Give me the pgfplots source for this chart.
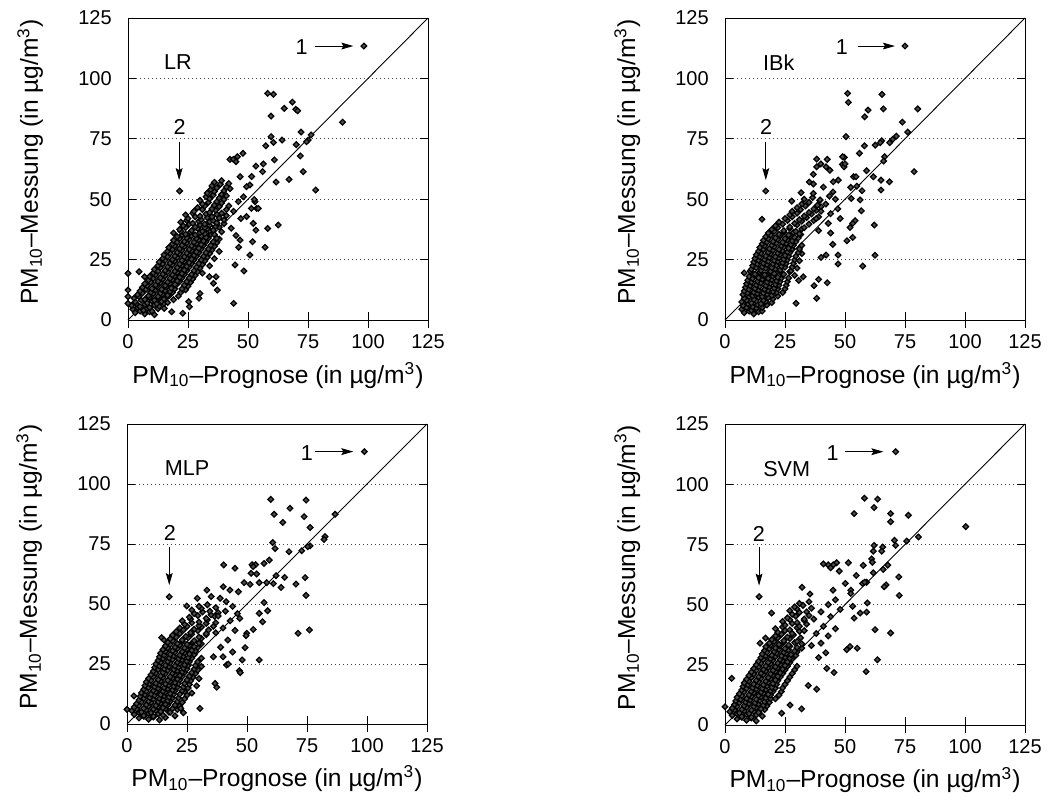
\documentclass[border=0pt]{standalone}
\usepackage{pgfplots}
\pgfplotsset{compat=1.18}
\usepackage{fontspec}
\setmainfont{Liberation Sans}
\usetikzlibrary{arrows.meta}
\tikzset{
  ann/.style={font=\fontsize{10.8}{12}\selectfont},
  arr/.style={-{Stealth[length=6pt,width=3.4pt,inset=1pt]}, line width=0.45pt},
}
\pgfplotsset{
  pmaxis/.style={
    scale only axis, width=150pt, height=151pt,
    xmin=0, xmax=125, ymin=0, ymax=125,
    xtick={0,25,50,75,100,125}, ytick={0,25,50,75,100,125},
    xtick pos=left, ytick pos=both,
    tick align=inside, major tick length=4pt,
    every tick/.style={black, line width=0.5pt},
    extra x ticks={0,25,50,75,100,125}, extra x tick labels={},
    extra x tick style={tick align=outside},
    /pgf/number format/assume math mode=true,
    tick label style={font=\fontsize{10}{12}\selectfont},
    yticklabel style={xshift=-4.6pt},
    xticklabel style={yshift=-3.6pt},
    ymajorgrids,
    major grid style={black!75, line width=0.5pt, dash pattern=on 0.5pt off 1.5pt},
    axis line style={line width=0.5pt},
    label style={font=\fontsize{12.3}{14}\selectfont},
    xlabel={PM\textsubscript{10}--Prognose (in µg/m\textsuperscript{3})},
    ylabel={PM\textsubscript{10}--Messung (in µg/m\textsuperscript{3})},
    xlabel style={at={(axis description cs:0.5,-0.2086)}, anchor=base},
    ylabel style={at={(axis description cs:-0.30,0.523)}, anchor=base},
    clip=false,
  },
  pts/.style={only marks, mark=square*, mark size=1.0pt, black,
    mark options={rotate=45, line width=0.6pt, draw=black, fill=black!70}},
  diag/.style={no marks, black, line width=0.45pt},
}
\begin{document}
\begin{tikzpicture}
\useasboundingbox (0,0) rectangle (524pt,-400pt);

% ---------------- LR ----------------
\begin{axis}[pmaxis, at={(64pt,-160pt)}, anchor=south west]
\addplot[diag] coordinates {(0,0)(125,125)};
\addplot[pts] coordinates {
(3,3)(5,3.7)(7,2.5)(9,3.4)(11,2.2)
(2,4.5)(4,5.2)(6.5,4)(8,4.9)(10,3.7)(12.5,4.7)
(1.5,6)(3.5,6.7)(5,5.5)(7,6.4)(9,5.2)(11,6.2)(13,5.7)(15,6.9)
(3,7.5)(5.5,8.2)(8,7)(10,7.9)(12,6.7)(14,7.7)(16.5,7.2)
(2.5,9)(4.5,9.7)(7,8.5)(9,9.4)(11,8.2)(13,9.2)(15,8.7)(17,9.9)(19,8.4)
(4,10.5)(6,11.2)(8.5,10)(10.5,10.9)(12.5,9.7)(14.5,10.7)(16.5,10.2)(18.5,11.4)(21,9.9)
(5,12)(7.5,12.7)(9.5,11.5)(11.5,12.4)(13.5,11.2)(15.5,12.2)(17.5,11.7)(19.5,12.9)(22,11.4)(24,12.5)
(6,13.5)(8,14.2)(10,13)(12,13.9)(14,12.7)(16,13.7)(18,13.2)(20,14.4)(22.5,12.9)(25,14)
(7,15)(9.5,15.7)(11.5,14.5)(13.5,15.4)(15.5,14.2)(17.5,15.2)(19.5,14.7)(21.5,15.9)(23.5,14.4)(26,15.5)
(8.5,16.5)(10.5,17.2)(12.5,16)(14.5,16.9)(16.5,15.7)(18.5,16.7)(20.5,16.2)(22.5,17.4)(24.5,15.9)(27,17)
(9,18)(11.5,18.7)(13.5,17.5)(15.5,18.4)(17.5,17.2)(19.5,18.2)(21.5,17.7)(23.5,18.9)(25.5,17.4)(28,18.5)
(10.5,19.5)(12.5,20.2)(14.5,19)(16.5,19.9)(18.5,18.7)(20.5,19.7)(22.5,19.2)(24.5,20.4)(26.5,18.9)(29,20)(31,19.4)
(11,21)(13.5,21.7)(15.5,20.5)(17.5,21.4)(19.5,20.2)(21.5,21.2)(23.5,20.7)(25.5,21.9)(27.5,20.4)(30,21.5)
(12.5,22.5)(14.5,23.2)(16.5,22)(18.5,22.9)(20.5,21.7)(22.5,22.7)(24.5,22.2)(26.5,23.4)(28.5,21.9)(31,23)(34,22.4)
(13,24)(15.5,24.7)(17.5,23.5)(19.5,24.4)(21.5,23.2)(23.5,24.2)(25.5,23.7)(27.5,24.9)(29.5,23.4)(32,24.5)
(14.5,25.5)(16.5,26.2)(18.5,25)(20.5,25.9)(22.5,24.7)(24.5,25.7)(26.5,25.2)(28.5,26.4)(30.5,24.9)(33,26)(36,25.4)
(15,27)(17.5,27.7)(19.5,26.5)(21.5,27.4)(23.5,26.2)(25.5,27.2)(27.5,26.7)(29.5,27.9)(31.5,26.4)(34,27.5)
(16.5,28.5)(18.5,29.2)(20.5,28)(22.5,28.9)(24.5,27.7)(26.5,28.7)(28.5,28.2)(30.5,29.4)(32.5,27.9)(35,29)(38,28.4)
(17,30)(19.5,30.7)(21.5,29.5)(23.5,30.4)(25.5,29.2)(27.5,30.2)(29.5,29.7)(31.5,30.9)(33.5,29.4)(36,30.5)
(18.5,31.5)(20.5,32.2)(22.5,31)(24.5,31.9)(26.5,30.7)(28.5,31.7)(30.5,31.2)(32.5,32.4)(34.5,30.9)(37,32)
(19,33)(21.5,33.7)(23.5,32.5)(25.5,33.4)(27.5,32.2)(29.5,33.2)(31.5,32.7)(33.5,33.9)(35.5,32.4)(38,33.5)
(20.5,34.5)(22.5,35.2)(24.5,34)(26.5,34.9)(28.5,33.7)(30.5,34.7)(32.5,34.2)(34.5,35.4)(37,33.9)
(19,36)(22,36.7)(24,35.5)(26,36.4)(28,35.2)(30,36.2)(32,35.7)(34,36.9)(36,35.4)(39,36.5)
(21.5,37.5)(24,38.2)(26.5,37)(29,37.9)(31,36.7)(33,37.7)(35.5,37.2)(38,38.4)
(23,39)(25.5,39.7)(28,38.5)(30,39.4)(32,38.2)(34,39.2)(36.5,38.7)(40,39.9)
(22,40.5)(24.5,41.2)(27,40)(29.5,40.9)(32,39.7)(34,40.7)(37,40.2)(40,41.4)
(25,42)(28,42.7)(30.5,41.5)(33,42.4)(35.5,41.2)(38,42.2)
(24,43.5)(27,44.2)(30,43)(32.5,43.9)(35,42.7)(37,43.7)(41,43.2)
(27.5,45)(31,45.7)(34,44.5)(36.5,45.4)(39,44.2)
(29,46.5)(32,47.2)(35,46)(38,46.9)(41,45.7)
(31,48)(33.5,48.7)(36,47.5)(39,48.4)(42,47.2)
(30,49.5)(34,50.2)(37,49)(40,49.9)
(32.5,51)(35.5,51.7)(38,50.5)(41,51.4)
(33,52.5)(36,53.2)(39,52)
(34.5,54)(37,54.7)(40,53.5)(42.5,54.4)
(35,55.5)(38.5,56.2)(41,55)
(36,57)(39,57.7)(42,56.5)
(58.2,93.8)(60.6,93.4)(59.6,84.4)(65.1,87.6)(68.5,90.2)(69.9,87.2)(70.7,86.6)(89.4,81.9)
(72.1,77.8)(59.6,75.9)(57.4,72.1)(60.6,73.5)(64.2,74.5)(76.3,76.6)(75.1,74.5)(74.4,73.8)
(70.1,72.6)(71.8,67.9)(61,66.3)(73,61.4)(78.2,53.8)(67.1,58.2)(61.7,57.1)(56.1,61.4)
(53.3,63.7)(56.4,64.6)(47.9,69)(45.6,67.6)(42.5,66.5)(43.9,66.5)(45,65.5)(51.5,59.4)
(50.8,55.9)(49.4,55.2)(46.7,59.3)(52.9,49)(53.6,46.2)(51.4,46.2)(48.1,51)(58.2,37.9)
(62.6,39.3)(53.3,37.2)(52.2,40)(57.1,30.1)(50.8,26.9)(48.3,20.3)(44.6,22.8)(44,6.9)
(51.9,32.4)(46.1,30.1)(46.7,33.1)(37.2,12.4)(35.6,15.2)(36.7,17.9)(33.9,17.9)(30,11)
(29.6,9)(25.3,7.6)(25.6,5.5)(18.2,3.4)(15.1,4.8)(22.8,2.8)(0,19.3)(0,12.4)(0,9.7)(0,6.9)
(4.6,20)(6.9,17.9)(54.3,46.2)(49.4,42.8)(52.6,49.9)(44,45)(46,49)(43,38)(45,35)(47,42)
(21.5,53.4)(98.3,113.4)
};
\node[ann] at (axis cs:20.8,106.6) {LR};
\node[ann] at (axis cs:72.3,113) {1};
\draw[arr] (axis cs:77.9,113.4) -- (axis cs:93.9,113.4);
\node[ann] at (axis cs:21.5,79.7) {2};
\draw[arr] (axis cs:21.3,73.8) -- (axis cs:21.3,57.9);
\end{axis}

% ---------------- IBk ----------------
\begin{axis}[pmaxis, at={(362.5pt,-160pt)}, anchor=south west]
\addplot[diag] coordinates {(0,0)(125,125)};
\addplot[pts] coordinates {
(8,3)(10,3.7)(12,2.5)(14,3.4)
(7,4.5)(9,5.2)(11,4)(13,4.9)(15.5,3.7)
(7.5,6)(9.5,6.7)(11.5,5.5)(13.5,6.4)(15.5,5.2)(17.5,6.2)
(7,7.5)(9,8.2)(11,7)(13,7.9)(15,6.7)(17,7.7)(19.5,7.2)
(8,9)(10,9.7)(12,8.5)(14,9.4)(16,8.2)(18,9.2)(20,8.7)(22,9.9)
(7.5,10.5)(9.5,11.2)(11.5,10)(13.5,10.9)(15.5,9.7)(17.5,10.7)(19.5,10.2)(21.5,11.4)
(8,12)(10,12.7)(12,11.5)(14,12.4)(16,11.2)(18,12.2)(20,11.7)(22,12.9)(24,11.4)
(8.5,13.5)(10.5,14.2)(12.5,13)(14.5,13.9)(16.5,12.7)(18.5,13.7)(20.5,13.2)(22.5,14.4)(25,12.9)
(9,15)(11,15.7)(13,14.5)(15,15.4)(17,14.2)(19,15.2)(21,14.7)(23,15.9)(25.5,14.4)
(9.5,16.5)(11.5,17.2)(13.5,16)(15.5,16.9)(17.5,15.7)(19.5,16.7)(21.5,16.2)(23.5,17.4)(26,15.9)
(10,18)(12,18.7)(14,17.5)(16,18.4)(18,17.2)(20,18.2)(22,17.7)(24,18.9)(26.5,17.4)(29,18.5)
(8,19.5)(10.5,20.2)(12.5,19)(14.5,19.9)(16.5,18.7)(18.5,19.7)(20.5,19.2)(22.5,20.4)(24.5,18.9)(27,20)
(11,21)(13,21.7)(15,20.5)(17,21.4)(19,20.2)(21,21.2)(23,20.7)(25,21.9)(27.5,20.4)(30,21.5)
(11.5,22.5)(13.5,23.2)(15.5,22)(17.5,22.9)(19.5,21.7)(21.5,22.7)(23.5,22.2)(25.5,23.4)(28,21.9)
(12,24)(14,24.7)(16,23.5)(18,24.4)(20,23.2)(22,24.2)(24,23.7)(26,24.9)(28.5,23.4)(31,24.5)
(12.5,25.5)(14.5,26.2)(16.5,25)(18.5,25.9)(20.5,24.7)(22.5,25.7)(24.5,25.2)(26.5,26.4)(29,24.9)
(13,27)(15,27.7)(17,26.5)(19,27.4)(21,26.2)(23,27.2)(25,26.7)(27,27.9)(29.5,26.4)(32,27.5)
(14,28.5)(16,29.2)(18,28)(20,28.9)(22,27.7)(24,28.7)(26,28.2)(28,29.4)(30.5,27.9)
(14.5,30)(16.5,30.7)(18.5,29.5)(20.5,30.4)(22.5,29.2)(24.5,30.2)(26.5,29.7)(28.5,30.9)(31,29.4)
(15.5,31.5)(17.5,32.2)(19.5,31)(21.5,31.9)(23.5,30.7)(25.5,31.7)(27.5,31.2)(29.5,32.4)(32,30.9)
(16,33)(18,33.7)(20,32.5)(22,33.4)(24,32.2)(26,33.2)(28,32.7)(30.5,33.9)
(17,34.5)(19,35.2)(21,34)(23,34.9)(25,33.7)(27,34.7)(29,34.2)(31.5,35.4)
(18,36)(20.5,36.7)(22.5,35.5)(24.5,36.4)(26.5,35.2)(28.5,36.2)(31,35.7)
(19.5,37.5)(22,38.2)(24.5,37)(27,37.9)(29.5,36.7)(32,37.7)
(21,39)(24,39.7)(27,38.5)(30,39.4)(33,38.2)
(22.5,40.5)(26,41.2)(29,40)(32,40.9)(35,39.7)
(25,42)(28,42.7)(31,41.5)(34,42.4)(37,41.2)
(27,43.5)(30,44.2)(33,43)(36,43.9)(39,42.7)
(28,45)(31.5,45.7)(35,44.5)(38,45.4)
(30,46.5)(33.5,47.2)(37,46)(40,46.9)
(32,48)(35,48.7)(38.5,47.5)
(33,50)(36.5,50.7)(39.5,49.5)
(51.1,93.8)(51.4,90.1)(65.4,93.4)(66,87.4)(59.6,86.9)(58.2,84.1)(80.3,87.4)(73.9,81.9)
(76.1,77.8)(71.4,76.1)(69.9,74.8)(68.6,73.4)(65.3,74.2)(64.7,73.4)(62.6,72.4)(58.1,72.1)
(56,69)(50.4,75.9)(66.5,67.6)(66.1,65.8)(78.8,61.4)(65,57.9)(68.5,57.2)(65,53.8)
(61.8,59.3)(59,61.8)(57.1,53.5)(56.3,49.7)(56.8,45.2)(53.6,59.3)(54.6,59.3)(54.9,55.4)
(52.4,54.9)(52.6,50.3)(54.2,41.1)(53.2,40)(52.1,38.3)(62.2,39.3)(62.5,26.8)(50.8,32.8)
(53.2,34.2)(57.4,22.3)(47.1,26.9)(47.1,23.2)(42.1,26.9)(40,25.9)(44.9,31.3)(49.7,67.3)
(48.9,64.4)(49.6,63.4)(38.2,66.6)(39.9,64.6)(42.6,66.5)(42.1,63.4)(35.1,57.1)(36.8,56.3)
(31.7,52.7)(27.8,49.2)(15.4,41.7)(42.6,15.4)(39,16.8)(37.1,14.2)(38.2,9)(29.6,6.9)
(30.7,16.4)(32.6,17.9)(49,67.6)(50,64.6)(38.2,63.4)(36.8,60.3)(43.7,62)(47.2,57.9)
(45.1,57.2)(43.5,51.3)(36.8,52.4)(39.6,49.7)(40,45)(42,48)(44,44)(46,50)(38,42)(41,55)
(45,53)(43,40)(47,46)(39,37)(44,36)(48,42)
(17,53.4)(75,113.4)
};
\node[ann] at (axis cs:22.4,106.6) {IBk};
\node[ann] at (axis cs:48.7,113) {1};
\draw[arr] (axis cs:55.6,113.4) -- (axis cs:70.8,113.4);
\node[ann] at (axis cs:17.1,79.7) {2};
\draw[arr] (axis cs:17,73.8) -- (axis cs:17,57.9);
\end{axis}

% ---------------- MLP ----------------
\begin{axis}[pmaxis, height=150pt, at={(63.5pt,-362pt)}, anchor=south west]
\addplot[diag] coordinates {(0,0)(125,125)};
\addplot[pts] coordinates {
(5,2.5)(7,3.2)(9,2)(11,2.9)(13.5,1.7)(16,2.7)
(3,4)(5,4.7)(7,3.5)(9,4.4)(11,3.2)(13,4.2)(15,3.7)(17.5,4.9)(20,3.4)
(2,5.5)(4,6.2)(6,5)(8,5.9)(10,4.7)(12,5.7)(14,5.2)(16,6.4)(18,4.9)(21,6)
(3,7)(5,7.7)(7,6.5)(9,7.4)(11,6.2)(13,7.2)(15,6.7)(17,7.9)(19,6.4)(22,7.5)
(4,8.5)(6,9.2)(8,8)(10,8.9)(12,7.7)(14,8.7)(16,8.2)(18,9.4)(20,7.9)(23,9)
(5,10)(7,10.7)(9,9.5)(11,10.4)(13,9.2)(15,10.2)(17,9.7)(19,10.9)(21,9.4)(24,10.5)
(5.5,11.5)(7.5,12.2)(9.5,11)(11.5,11.9)(13.5,10.7)(15.5,11.7)(17.5,11.2)(19.5,12.4)(21.5,10.9)(25,12)
(6,13)(8,13.7)(10,12.5)(12,13.4)(14,12.2)(16,13.2)(18,12.7)(20,13.9)(22,12.4)(24,13.5)(27,12.9)
(7,14.5)(9,15.2)(11,14)(13,14.9)(15,13.7)(17,14.7)(19,14.2)(21,15.4)(23,13.9)(25.5,15)
(7.5,16)(9.5,16.7)(11.5,15.5)(13.5,16.4)(15.5,15.2)(17.5,16.2)(19.5,15.7)(21.5,16.9)(23.5,15.4)(26,16.5)(29,15.9)
(8,17.5)(10,18.2)(12,17)(14,17.9)(16,16.7)(18,17.7)(20,17.2)(22,18.4)(24,16.9)(26.5,18)
(9,19)(11,19.7)(13,18.5)(15,19.4)(17,18.2)(19,19.2)(21,18.7)(23,19.9)(25,18.4)(27.5,19.5)(30,18.9)
(10,20.5)(12,21.2)(14,20)(16,20.9)(18,19.7)(20,20.7)(22,20.2)(24,21.4)(26,19.9)(28.5,21)
(11,22)(13,22.7)(15,21.5)(17,22.4)(19,21.2)(21,22.2)(23,21.7)(25,22.9)(27,21.4)(29.5,22.5)
(11.5,23.5)(13.5,24.2)(15.5,23)(17.5,23.9)(19.5,22.7)(21.5,23.7)(23.5,23.2)(25.5,24.4)(28,22.9)(31,24)
(12,25)(14,25.7)(16,24.5)(18,25.4)(20,24.2)(22,25.2)(24,24.7)(26,25.9)(28.5,24.4)
(13,26.5)(15,27.2)(17,26)(19,26.9)(21,25.7)(23,26.7)(25,26.2)(27,27.4)(29.5,25.9)
(13.5,28)(15.5,28.7)(17.5,27.5)(19.5,28.4)(21.5,27.2)(23.5,28.2)(25.5,27.7)(28,28.9)(31,27.4)
(14,29.5)(16,30.2)(18,29)(20,29.9)(22,28.7)(24,29.7)(26,29.2)(28.5,30.4)
(15,31)(17,31.7)(19,30.5)(21,31.4)(23,30.2)(25,31.2)(27,30.7)(29.5,31.9)
(16,32.5)(18,33.2)(20,32)(22,32.9)(24,31.7)(26,32.7)(28,32.2)(31,33.4)
(17,34)(19,34.7)(21,33.5)(23,34.4)(25,33.2)(27.5,34.2)(30,33.7)
(18,35.5)(20.5,36.2)(23,35)(25.5,35.9)(28,34.7)(31,35.7)
(19,37)(22,37.7)(24.5,36.5)(27,37.4)(30,36.2)(33,37.2)
(20.5,38.5)(23.5,39.2)(26.5,38)(29.5,38.9)(33,37.7)
(22,40)(25,40.7)(28,39.5)(31,40.4)(34,39.2)
(24,41.5)(27,42.2)(30,41)(33,41.9)(36,40.7)
(23,43)(26.5,43.7)(30,42.5)(33.5,43.4)(37,42.2)
(26,44.5)(29.5,45.2)(33,44)(36.5,44.9)
(28,46)(31.5,46.7)(35,45.5)(38,46.4)
(27,47.5)(31,48.2)(34.5,47)
(30,49)(33.5,49.7)(37,48.5)
(59.9,93.6)(74.6,93.3)(67.9,89.9)(61.3,87.4)(73.8,86.4)(64.9,84)(76.3,81.9)(86.7,87.4)
(82.5,78.1)(82.1,76.9)(76.3,74.2)(75.3,73.9)(72.8,72.2)(60.7,75.6)(61.7,73.1)(67.5,71.8)
(59.3,68.3)(57.1,66.9)(52.1,66.4)(53.6,66.4)(52.6,65.6)(51.7,62.8)(54,62.5)(55.1,58.9)
(48.8,58.9)(51.3,58.2)(45,64.9)(40.3,66.3)(62.1,61.8)(65.7,61.1)(64.2,56.9)(58.2,58.9)
(61,58.5)(70.4,58.3)(74.2,61)(74.6,53.6)(71.3,37.8)(76,39.2)(57.1,50.6)(55.1,46.1)
(58.6,47.2)(56.5,42.6)(52.6,39.4)(49.9,37.8)(49.6,36.8)(49.2,31.8)(48,26.7)(55.1,26.7)
(46.8,22.2)(47.2,21.4)(41.5,24.6)(42.2,25)(36.7,16.9)(37.4,15.3)(30.4,6.5)(23.5,4.7)
(22.4,6.5)(2.9,11.7)(0,6.1)(14.4,36)(15.4,35)(24.9,49.2)(29.3,52.4)(33.3,55.8)(35.1,53.1)
(40.1,57.2)(42.9,55.8)(46.4,55.1)(38.8,52.4)(41.3,51)(38,45)(41,47)(44,49)(40,40)(43,43)
(46,46)(37,38)(42,35)(45,39)(39,32)(44,30)(47,44)(36,28)(40,28)
(17.6,53)(98.9,113.5)
};
\node[ann] at (axis cs:25,106.5) {MLP};
\node[ann] at (axis cs:74.9,113) {1};
\draw[arr] (axis cs:78.3,113.5) -- (axis cs:94.3,113.5);
\node[ann] at (axis cs:17.9,79.5) {2};
\draw[arr] (axis cs:17.6,73.9) -- (axis cs:17.6,57.9);
\end{axis}

% ---------------- SVM ----------------
\begin{axis}[pmaxis, height=150.5pt, at={(362.5pt,-362.5pt)}, anchor=south west]
\addplot[diag] coordinates {(0,0)(125,125)};
\addplot[pts] coordinates {
(5,2.5)(7,3.2)(9,2)(11,2.9)(13,1.7)
(3,4)(5,4.7)(7,3.5)(9,4.4)(11,3.2)(13,4.2)(15.5,3.7)
(2,5.5)(4,6.2)(6,5)(8,5.9)(10,4.7)(12,5.7)(14,5.2)(16.5,6.4)
(3,7)(5,7.7)(7,6.5)(9,7.4)(11,6.2)(13,7.2)(15,6.7)(17.5,7.9)
(4,8.5)(6,9.2)(8,8)(10,8.9)(12,7.7)(14,8.7)(16,8.2)(18.5,9.4)
(4.5,10)(6.5,10.7)(8.5,9.5)(10.5,10.4)(12.5,9.2)(14.5,10.2)(16.5,9.7)(19,10.9)
(5,11.5)(7,12.2)(9,11)(11,11.9)(13,10.7)(15,11.7)(17,11.2)(19,12.4)(21,10.9)
(6,13)(8,13.7)(10,12.5)(12,13.4)(14,12.2)(16,13.2)(18,12.7)(20,13.9)(22.5,12.4)
(7,14.5)(9,15.2)(11,14)(13,14.9)(15,13.7)(17,14.7)(19,14.2)(21,15.4)(23.5,13.9)
(7.5,16)(9.5,16.7)(11.5,15.5)(13.5,16.4)(15.5,15.2)(17.5,16.2)(19.5,15.7)(21.5,16.9)(24,15.4)
(8,17.5)(10,18.2)(12,17)(14,17.9)(16,16.7)(18,17.7)(20,17.2)(22,18.4)(25,16.9)
(9,19)(11,19.7)(13,18.5)(15,19.4)(17,18.2)(19,19.2)(21,18.7)(23,19.9)(26,18.4)
(10,20.5)(12,21.2)(14,20)(16,20.9)(18,19.7)(20,20.7)(22,20.2)(24,21.4)(27,19.9)
(11,22)(13,22.7)(15,21.5)(17,22.4)(19,21.2)(21,22.2)(23,21.7)(25,22.9)(28,21.4)
(12,23.5)(14,24.2)(16,23)(18,23.9)(20,22.7)(22,23.7)(24,23.2)(26,24.4)(29,22.9)
(13,25)(15,25.7)(17,24.5)(19,25.4)(21,24.2)(23,25.2)(25,24.7)(27,25.9)(30,24.4)
(14,26.5)(16,27.2)(18,26)(20,26.9)(22,25.7)(24,26.7)(26,26.2)(28,27.4)
(15,28)(17,28.7)(19,27.5)(21,28.4)(23,27.2)(25,28.2)(27,27.7)(29.5,28.9)
(15.5,29.5)(17.5,30.2)(19.5,29)(21.5,29.9)(23.5,28.7)(25.5,29.7)(27.5,29.2)(30,30.4)
(16.5,31)(18.5,31.7)(20.5,30.5)(22.5,31.4)(24.5,30.2)(26.5,31.2)(29,30.7)(32,31.9)
(17,32.5)(19,33.2)(21,32)(23,32.9)(25,31.7)(27,32.7)(30,32.2)
(18.5,34)(20.5,34.7)(22.5,33.5)(24.5,34.4)(26.5,33.2)(29,34.2)(32,33.7)
(19.5,35.5)(22,36.2)(24.5,35)(27,35.9)(30,34.7)
(21,37)(23.5,37.7)(26,36.5)(28.5,37.4)(31.5,36.2)
(22,38.5)(25,39.2)(28,38)(31,38.9)
(21,40)(24,40.7)(27,39.5)(30,40.4)(33,39.2)
(25,41.5)(28,42.2)(31,41)(34,41.9)
(24,43)(27,43.7)(30,42.5)(33,43.4)
(26,44.5)(29.5,45.2)(33,44)
(28,46)(31,46.7)(35,45.5)
(27,47.5)(30,48.2)(34,47)
(29,49)(32.5,49.7)(36,48.5)
(31,50.5)(35,51.2)
(58.1,94.2)(63.6,93.8)(62.1,90.3)(53.8,87.8)(69,87.8)(76.4,87.1)(69,84.4)(100.3,82.4)
(80.6,78.1)(75.7,76.4)(70.6,76.7)(71.1,74.6)(65.7,73.9)(65.3,72.2)(62.1,74.6)(61.8,72.2)
(67.8,66.4)(65.9,64.6)(57.6,66.3)(61.1,69)(61.4,67.6)(51.4,67.4)(72.4,61.5)(67.1,58.2)
(66.3,57.4)(72.6,53.8)(61.8,63.2)(59,59.3)(57.3,58.8)(58.2,59.3)(54.7,62.1)(46.5,67.4)
(45.1,66.5)(43,66.5)(41,66.9)(44,65.3)(47.6,63.9)(50.1,58.8)(52.4,56)(52.4,54.6)
(59.3,50.7)(59,46.9)(56.3,46.5)(53.2,49.3)(53.8,44.4)(62.5,39.6)(69,38.2)(63.5,27.1)
(58.8,22.2)(55.1,31.9)(52.1,32.6)(50.7,31.3)(45.4,21.8)(42.4,23.5)(38.2,14.9)(34.7,16.4)
(31.9,6.7)(23.6,4.9)(27.1,8.3)(2.8,19.4)(0,7.6)(19.4,46.5)(14.6,34)(16.9,36.1)(32.1,57.2)
(35.4,54.4)(37,44)(40,47)(43,50)(38,38)(41,41)(44,45)(46,52)(36,33)(40,34)(43,37)(46,40)
(39,28)(42,30)(48,48)(45,56)
(14.2,53.3)(71.1,113.5)
};
\node[ann] at (axis cs:25.7,106.5) {SVM};
\node[ann] at (axis cs:44.8,113) {1};
\draw[arr] (axis cs:50,113.5) -- (axis cs:66,113.5);
\node[ann] at (axis cs:14.1,79.5) {2};
\draw[arr] (axis cs:14.2,73.9) -- (axis cs:14.2,57.9);
\end{axis}
\end{tikzpicture}
\end{document}
